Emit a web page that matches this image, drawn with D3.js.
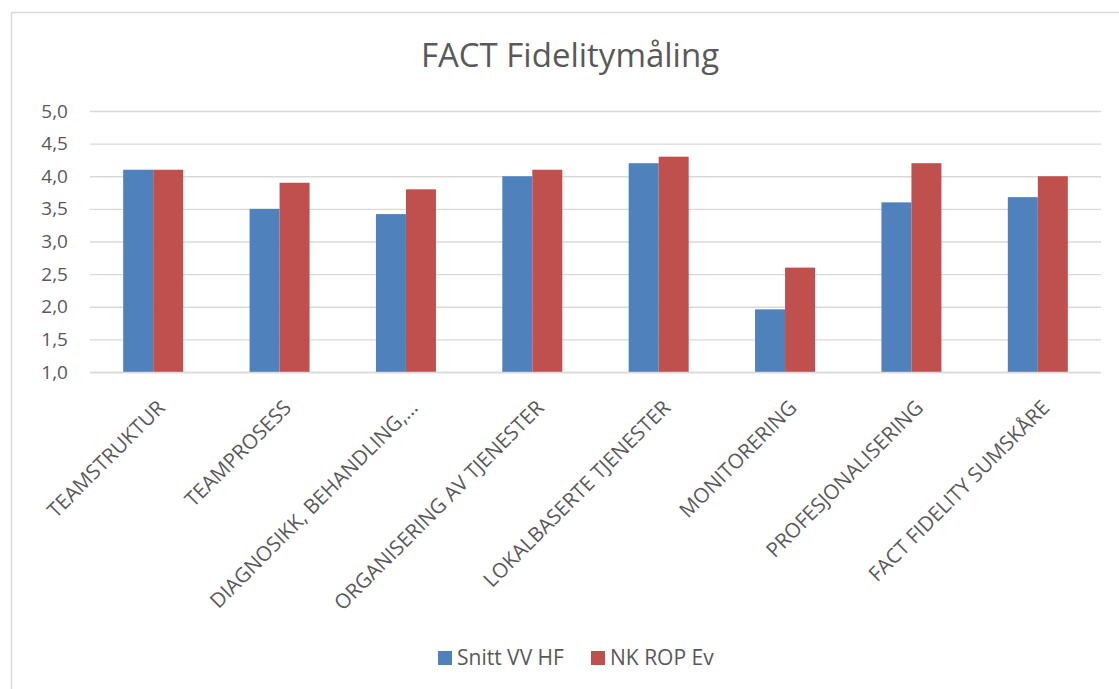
<!DOCTYPE html>
<html>
<head>
<meta charset="utf-8">
<script src="https://cdn.jsdelivr.net/npm/d3@7"></script>
<style>
  body { margin: 0; background: #fff; }
  text { font-family: 'Open Sans', sans-serif; fill: #595959; }
</style>
</head>
<body>
<div id="chart"></div>
<script>
const categories = [
  'TEAMSTRUKTUR',
  'TEAMPROSESS',
  'DIAGNOSIKK, BEHANDLING,…',
  'ORGANISERING AV TJENESTER',
  'LOKALBASERTE TJENESTER',
  'MONITORERING',
  'PROFESJONALISERING',
  'FACT FIDELITY SUMSKÅRE'
];
const seriesNames = ['Snitt VV HF', 'NK ROP Ev'];
const snittVV = [4.1, 3.5, 3.42, 4.0, 4.2, 1.96, 3.6, 3.68];
const nkRop = [4.1, 3.9, 3.8, 4.1, 4.3, 2.6, 4.2, 4.0];
const yTicks = [1.0, 1.5, 2.0, 2.5, 3.0, 3.5, 4.0, 4.5, 5.0];
const colors = ['#4f81bd', '#c0504d'];

const w = 1119;
const h = 689;
const plotLeft = 90;
const plotRight = 1101;
const plotTop = 111;
const plotBottom = 372;

const svg = d3.select('#chart')
  .append('svg')
  .attr('width', w)
  .attr('height', h);

// chart frame
svg.append('rect')
  .attr('x', 11.5)
  .attr('y', 12.5)
  .attr('width', 1130)
  .attr('height', 700)
  .attr('fill', '#fff')
  .attr('stroke', '#d9d9d9')
  .attr('stroke-width', 1.5);

svg.append('text')
  .attr('x', 570)
  .attr('y', 67)
  .attr('text-anchor', 'middle')
  .style('font-size', '33px')
  .text('FACT Fidelitymåling');

const xScale = d3.scaleBand()
  .domain(categories)
  .range([plotLeft, plotRight])
  .paddingInner(0)
  .paddingOuter(0);

const xInner = d3.scaleBand()
  .domain(seriesNames)
  .range([0, 60]);

const yScale = d3.scaleLinear()
  .domain([1, 5])
  .range([plotBottom, plotTop]);

// grid
const yAxis = d3.axisLeft(yScale)
  .tickValues(yTicks)
  .tickSize(-(plotRight - plotLeft))
  .tickPadding(22)
  .tickFormat((d) => d3.format('.1f')(d).replace('.', ','));

const gy = svg.append('g')
  .attr('transform', 'translate(' + plotLeft + ',0)')
  .call(yAxis);
gy.select('.domain').remove();
gy.selectAll('line')
  .attr('stroke', '#d9d9d9')
  .attr('stroke-width', 1.3);
gy.selectAll('text')
  .style('font-size', '19px')
  .style('fill', '#595959');

const rows = categories.map((c, i) => ({ cat: c, vals: [snittVV[i], nkRop[i]] }));

const groups = svg.selectAll('.grp')
  .data(rows)
  .enter()
  .append('g')
  .attr('class', 'grp')
  .attr('transform', (d) => 'translate(' + (xScale(d.cat) + xScale.bandwidth() / 2 - 30) + ',0)');

groups.selectAll('rect')
  .data((d) => d.vals.map((v, j) => ({ name: seriesNames[j], v: v, j: j })))
  .enter()
  .append('rect')
  .attr('x', (d) => xInner(d.name))
  .attr('width', xInner.bandwidth())
  .attr('y', (d) => yScale(d.v))
  .attr('height', (d) => plotBottom - yScale(d.v))
  .attr('fill', (d) => colors[d.j]);

// baseline
svg.append('line')
  .attr('x1', plotLeft)
  .attr('x2', plotRight)
  .attr('y1', plotBottom + 0.5)
  .attr('y2', plotBottom + 0.5)
  .attr('stroke', '#d9d9d9')
  .attr('stroke-width', 1.5);

// category labels
const xAxis = d3.axisBottom(xScale).tickSize(0).tickPadding(0);
const gx = svg.append('g')
  .attr('transform', 'translate(0,' + plotBottom + ')')
  .call(xAxis);
gx.select('.domain').remove();
gx.selectAll('text')
  .attr('text-anchor', 'end')
  .attr('dy', 0)
  .attr('transform', 'translate(13,37) rotate(-45)')
  .style('font-size', '20.5px')
  .style('fill', '#595959');

// legend
const legend = svg.append('g');
const legendX = [438, 591];
seriesNames.forEach((n, i) => {
  legend.append('rect')
    .attr('x', legendX[i])
    .attr('y', 651)
    .attr('width', 14)
    .attr('height', 14)
    .attr('fill', colors[i]);
  legend.append('text')
    .attr('x', legendX[i] + 19)
    .attr('y', 665)
    .style('font-size', '21px')
    .text(n);
});
</script>
</body>
</html>
